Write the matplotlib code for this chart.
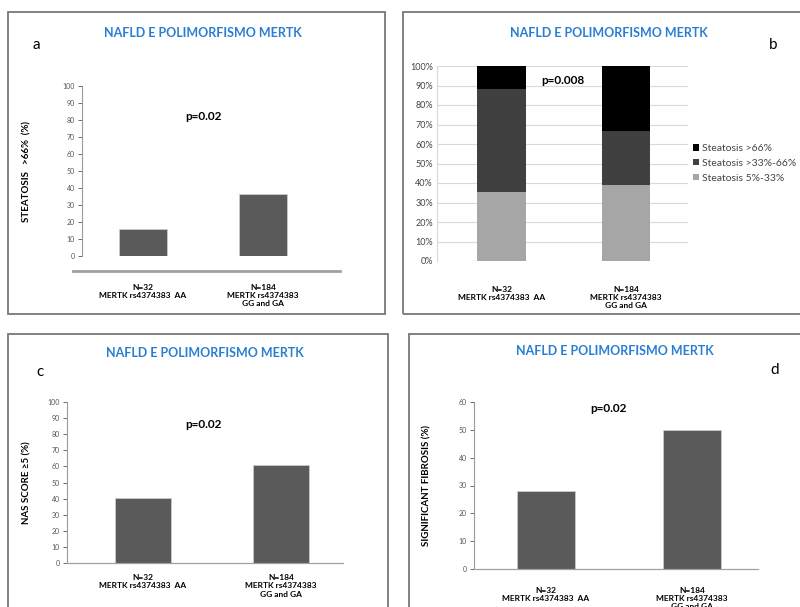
import matplotlib
matplotlib.use("Agg")
from matplotlib import pyplot as plt
from matplotlib.patches import Rectangle
import numpy as np

plt.rcParams['font.family'] = ['Lato', 'DejaVu Sans']

# data
groups = ["N=32\nMERTK rs4374383  AA", "N=184\nMERTK rs4374383\nGG and GA"]
steatosis_gt66 = [16, 36.5]
nas_score_ge5 = [40.5, 61]
sig_fibrosis = [28, 50]
stack_labels = ["Steatosis 5%-33%", "Steatosis >33%-66%", "Steatosis >66%"]
stack_low = [35.5, 39]
stack_mid = [52.5, 27.5]
stack_high = [12, 33.5]

title = "NAFLD E POLIMORFISMO MERTK"
W, H = 800, 607
fig = plt.figure(figsize=(8, 6.07), dpi=100)

def rect(x0, y0, x1, y1):
    return [x0 / W, 1 - y1 / H, (x1 - x0) / W, (y1 - y0) / H]

def fig_text(x, y, s, **kw):
    fig.text(x / W, 1 - y / H, s, **kw)

BAR = "#5a5a5a"
BLUE = "#2a7ed2"
TICK = "#555555"

# panel borders
for (x0, y0, x1, y1) in [(8, 12, 385, 314), (403, 12, 820, 314), (8, 334, 388, 620), (409, 334, 820, 620)]:
    fig.add_artist(Rectangle((x0 / W, 1 - y1 / H), (x1 - x0) / W, (y1 - y0) / H,
                             transform=fig.transFigure, fill=False, edgecolor="#777777", lw=1.3))

def simple_panel(ax, vals, ylabel, ymax, xlim, label_x, outward, pad):
    x = np.arange(len(vals))
    ax.bar(x, vals, width=0.4, color=BAR, edgecolor="#d0d0d0", lw=0.5, zorder=2)
    ax.set_xlim(*xlim)
    ax.set_ylim(0, ymax)
    ax.set_yticks(np.arange(0, ymax + 1, 10))
    ax.tick_params(axis='y', labelsize=5, colors=TICK, length=3, width=0.6, pad=2)
    for spine in ["top", "right"]:
        ax.spines[spine].set_visible(False)
    ax.spines["left"].set_color("#999999")
    ax.spines["left"].set_linewidth(0.8)
    ax.spines["bottom"].set_color("#a0a0a0")
    ax.spines["bottom"].set_linewidth(2 if outward else 0.9)
    ax.spines["bottom"].set_position(("outward", outward))
    ax.set_xticks(x)
    ax.set_xticklabels(groups, fontsize=6, fontweight="bold", linespacing=1.2)
    ax.tick_params(axis='x', length=0, pad=pad)
    ax.set_ylabel(ylabel, fontsize=7, fontweight="bold")
    ax.yaxis.set_label_coords(label_x, 0.5)
    ax.patch.set_alpha(0)

# panel a
ax_a = fig.add_axes(rect(82, 86, 340, 256))
simple_panel(ax_a, steatosis_gt66, "STEATOSIS   >66%  (%)", 100, (-0.508, 1.642), -0.196, 11, 9)
ax_a.spines["bottom"].set_bounds(-0.585, 1.642)
fig_text(203, 33, title, ha="center", va="center", fontsize=9, fontweight="bold", color=BLUE)
fig_text(36, 45, "a", ha="center", va="center", fontsize=11)
fig_text(203, 116, "p=0.02", ha="center", va="center", fontsize=8.5, fontweight="bold")

# panel c
ax_c = fig.add_axes(rect(67, 402, 343, 563))
simple_panel(ax_c, nas_score_ge5, "NAS SCORE \u22655 (%)", 100, (-0.551, 1.449), -0.127, 0, 8)
fig_text(205, 353, title, ha="center", va="center", fontsize=9, fontweight="bold", color=BLUE)
fig_text(40, 372, "c", ha="center", va="center", fontsize=11)
fig_text(203, 424, "p=0.02", ha="center", va="center", fontsize=8.5, fontweight="bold")

# panel d
ax_d = fig.add_axes(rect(474, 402, 758, 569))
simple_panel(ax_d, sig_fibrosis, "SIGNIFICANT FIBROSIS (%)", 60, (-0.493, 1.452), -0.151, 0, 13)
fig_text(615, 351, title, ha="center", va="center", fontsize=9, fontweight="bold", color=BLUE)
fig_text(775, 370, "d", ha="center", va="center", fontsize=11)
fig_text(608, 408, "p=0.02", ha="center", va="center", fontsize=8.5, fontweight="bold")

# panel b
ax_b = fig.add_axes(rect(437, 66, 688, 261))
xb = np.arange(2)
ax_b.bar(xb, stack_low, width=0.39, color="#a6a6a6", label=stack_labels[0], zorder=2)
ax_b.bar(xb, stack_mid, width=0.39, bottom=stack_low, color="#404040", label=stack_labels[1], zorder=2)
ax_b.bar(xb, stack_high, width=0.39, bottom=np.add(stack_low, stack_mid), color="#000000",
         label=stack_labels[2], zorder=2)
ax_b.set_xlim(-0.518, 1.498)
ax_b.set_ylim(0, 100)
ax_b.set_yticks(np.arange(0, 101, 10))
ax_b.set_yticklabels([f"{v}%" for v in range(0, 101, 10)])
ax_b.yaxis.grid(True, color="#d9d9d9", lw=0.8, zorder=0)
ax_b.tick_params(axis='y', labelsize=6.5, colors="#444444", length=0, pad=3)
for spine in ["top", "right", "bottom"]:
    ax_b.spines[spine].set_visible(False)
ax_b.spines["left"].set_color("#d9d9d9")
ax_b.set_xticks(xb)
ax_b.set_xticklabels(groups, fontsize=6, fontweight="bold", linespacing=1.2)
ax_b.tick_params(axis='x', length=0, pad=18)
ax_b.patch.set_alpha(0)
handles, labels = ax_b.get_legend_handles_labels()
ax_b.legend(handles[::-1], labels[::-1], loc="center left", bbox_to_anchor=(1.0, 0.5),
            frameon=False, fontsize=7.5, handlelength=0.55, handleheight=0.55, handletextpad=0.25,
            labelspacing=0.55, labelcolor="#444444", borderaxespad=0.1)
fig_text(609, 33, title, ha="center", va="center", fontsize=9, fontweight="bold", color=BLUE)
fig_text(773, 45, "b", ha="center", va="center", fontsize=11)
fig_text(563, 80, "p=0.008", ha="center", va="center", fontsize=8.5, fontweight="bold")

fig.savefig("out.png", dpi=100)
